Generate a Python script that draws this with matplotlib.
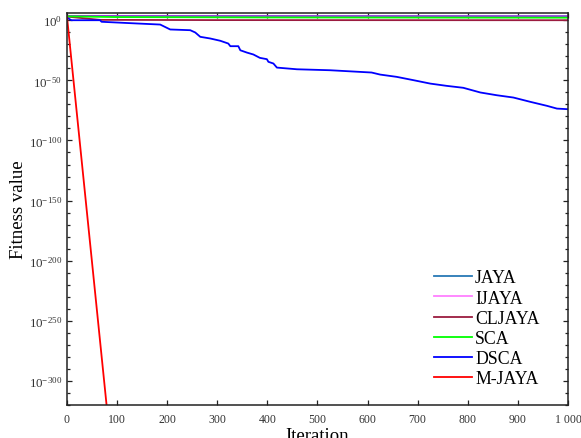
import numpy as np
import matplotlib
matplotlib.use('Agg')
import matplotlib.pyplot as plt
from matplotlib.ticker import FixedLocator, FuncFormatter

plt.rcParams['font.family'] = ['Liberation Serif', 'DejaVu Serif']
plt.rcParams['mathtext.fontset'] = 'custom'
plt.rcParams['mathtext.rm'] = 'Liberation Serif'
plt.rcParams['mathtext.it'] = 'Liberation Serif:italic'

# convergence curves, fitness given as log10 exponents
JAYA_IT = [0, 500, 1000]
JAYA_EXP = [3.6, 3.5, 3.4]

IJAYA_IT = [0, 500, 1000]
IJAYA_EXP = [3.6, 3.5, 3.4]

CLJAYA_IT = [0, 66, 300, 1000]
CLJAYA_EXP = [3.0, 0.3, 0.1, 0.0]

SCA_IT = [0, 100, 400, 1000]
SCA_EXP = [3.2, 2.6, 2.3, 2.1]

DSCA_IT = [0, 9, 66, 69, 139, 186, 206, 246, 256, 266, 286, 306, 322, 326,
           342, 346, 359, 372, 385, 399, 402, 412, 419, 459, 525, 608, 625,
           658, 692, 725, 758, 791, 825, 858, 891, 925, 958, 978, 1000]
DSCA_EXP = [2.0, 0.0, 0.0, -1.3, -2.7, -3.6, -7.7, -8.3, -10.2, -13.8, -15.2,
            -17.1, -19.4, -21.6, -21.6, -25.0, -26.9, -28.5, -31.3, -32.4,
            -34.6, -36.0, -39.4, -40.8, -41.6, -43.5, -45.2, -47.1, -49.9,
            -52.7, -54.6, -56.2, -60.1, -62.4, -64.3, -67.9, -71.2, -73.5, -74.0]

MJAYA_IT = [0, 79]
MJAYA_EXP = [3.0, -320.0]

series = [
    ('JAYA', JAYA_IT, JAYA_EXP, '#2878b5', 1.0),
    ('IJAYA', IJAYA_IT, IJAYA_EXP, '#ff00ff', 0.5),
    ('CLJAYA', CLJAYA_IT, CLJAYA_EXP, '#9b1b3f', 1.0),
    ('SCA', SCA_IT, SCA_EXP, '#00ff00', 1.0),
    ('DSCA', DSCA_IT, DSCA_EXP, '#0000ff', 1.0),
    ('M-JAYA', MJAYA_IT, MJAYA_EXP, '#ff0000', 1.0),
]

fig = plt.figure(figsize=(5.81, 4.39), dpi=100)
ax = fig.add_axes([0.1153, 0.0752, 0.8623, 0.8929])

for name, it, ex, color, alpha in series:
    ax.plot(it, 10.0 ** np.array(ex), color=color, lw=1.3, alpha=alpha, label=name)

ax.set_yscale('log')
ax.set_xlim(0, 1000)
ax.set_ylim(1e-320, 1e6)

ax.xaxis.set_major_locator(FixedLocator(np.arange(0, 1001, 100)))
ax.xaxis.set_major_formatter(FuncFormatter(lambda v, p: '{:,}'.format(int(v)).replace(',', ' ')))
ax.yaxis.set_major_locator(FixedLocator(10.0 ** np.arange(-300, 1, 50)))
ax.yaxis.set_minor_locator(FixedLocator(10.0 ** np.arange(-320, 6, 10)))
ax.yaxis.set_major_formatter(FuncFormatter(lambda v, p: r'$10^{%d}$' % round(np.log10(v))))
ax.yaxis.set_minor_formatter(FuncFormatter(lambda v, p: ''))

ax.tick_params(which='both', direction='in', top=True, right=True, width=0.9,
               colors='#222222', labelcolor='#333333')
ax.tick_params(which='major', length=3.5)
ax.tick_params(which='minor', length=2.5)
ax.tick_params(axis='x', pad=6, labelsize=8.5)
ax.tick_params(axis='y', pad=3.5, labelsize=9.3)
for s in ax.spines.values():
    s.set_linewidth(1.1)
    s.set_color('#222222')

ax.set_xlabel('Iteration', fontsize=13.5, labelpad=1)
ax.set_ylabel('Fitness value', fontsize=13.5, labelpad=1)

ax.legend(loc='lower left', bbox_to_anchor=(0.733, 0.045), frameon=False,
          fontsize=12.8, handlelength=2.1, handletextpad=0.2, labelspacing=0.18,
          borderpad=0, borderaxespad=0)

fig.savefig('out.png', dpi=100)
